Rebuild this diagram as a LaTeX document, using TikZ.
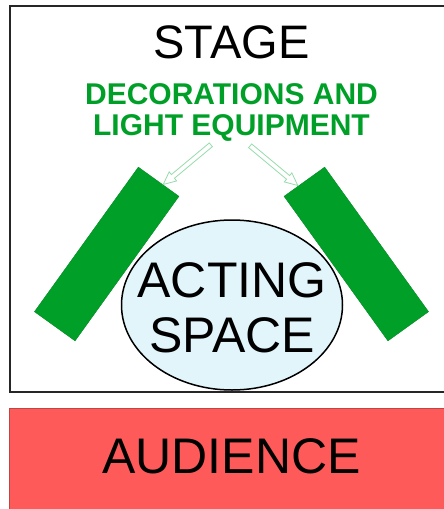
\documentclass[tikz,border=0pt]{standalone}
\usepackage{fontspec}
\setmainfont{Liberation Sans}
\usetikzlibrary{shapes.geometric,shapes.arrows}
\definecolor{propgreen}{RGB}{0,160,40}
\definecolor{beamgreen}{RGB}{150,220,170}
\definecolor{spacecyan}{RGB}{225,245,250}
\definecolor{audred}{RGB}{255,90,90}

\begin{document}
\begin{tikzpicture}[x=1pt, y=-1pt,
    area/.style={minimum width=446pt, anchor=north west, inner sep=0pt},
    prop/.style={draw=propgreen!85!black, line width=0.4pt, fill=propgreen, minimum width=178pt, minimum height=50pt, inner sep=0pt},
    beam/.style={single arrow, draw=beamgreen, fill=white, line width=0.8pt, minimum height=62pt, inner sep=2pt, single arrow head extend=3.5pt, single arrow tip angle=50},
    decotext/.style={text=propgreen, font=\fontsize{30}{32}\selectfont\bfseries, anchor=base, inner sep=0pt}]
    \clip (0,0) rectangle (444,509);

    % Stage and audience
    \node[area, draw=black!85, line width=2.4pt, minimum height=386pt] (stage) at (9,5) {};
    \node[area, draw=audred!75!black, line width=0.6pt, fill=audred, minimum height=110pt] (audience) at (9,408) {};
    \node[anchor=base, inner sep=0pt, font=\fontsize{47}{50}\selectfont] (title) at (231.5,58) {STAGE};
    \node[anchor=base, inner sep=0pt, font=\fontsize{50}{55}\selectfont] (audlabel) at (231.5,473) {AUDIENCE};

    % Decorations
    \node[decotext] (deco1) at (231.5,104) {DECORATIONS AND};
    \node[decotext] (deco2) at (231.5,135.5) {LIGHT EQUIPMENT};
    \node[prop, rotate=54.3] (propL) at (106.7,254) {};
    \node[prop, rotate=-54.3] (propR) at (356.3,254) {};
    \node[beam, rotate=219.8] (beamL) at (189,163) {};
    \node[beam, rotate=-39.8] (beamR) at (272,164) {};

    % Acting space
    \node[ellipse, draw, line width=1.5pt, fill=spacecyan, minimum width=221pt, minimum height=170pt, inner sep=0pt] (space) at (232,305) {};
    \node[align=center, inner sep=0pt, font=\fontsize{50}{55}\selectfont] (spacelabel) at (232,307.5) {ACTING\\SPACE};
\end{tikzpicture}
\end{document}
